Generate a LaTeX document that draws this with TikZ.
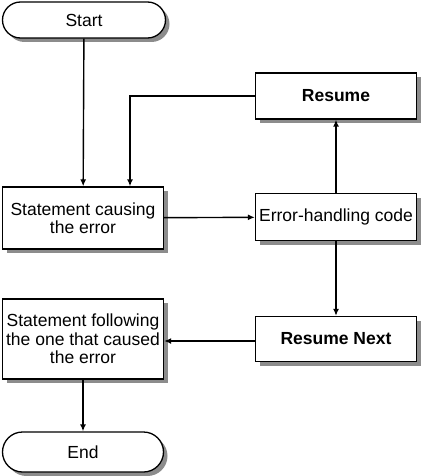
\documentclass[tikz,border=0pt]{standalone}
\usepackage{fontspec}
\setmainfont{Liberation Sans}
\usetikzlibrary{shadows}
\usetikzlibrary{arrows.meta}

\tikzset{
  box/.style={draw, fill=white, line width=1.3pt, align=center, inner sep=2pt,
    minimum width=161pt, drop shadow={shadow xshift=4pt, shadow yshift=-4pt, fill=black!45, opacity=1}},
  term/.style={box, rounded corners=18pt},
  flow/.style={line width=1.4pt, -{Latex[length=7pt, width=6pt]}}
}

\begin{document}
\begin{tikzpicture}[x=1pt, y=-1pt, font=\fontsize{17.5}{18.5}\selectfont]
        \useasboundingbox (0,0) rectangle (421,476);
        \node[term, minimum width=163pt, minimum height=36pt] (start) at (84, 20) {Start};
        \node[box, minimum height=62pt] (cause) at (83, 218) {Statement causing\\the error};
        \node[box, minimum height=47pt] (handler) at (336, 217) {Error-handling code};
        \node[box, minimum height=46pt] (resume) at (336, 96) {\bfseries Resume};
        \node[box, minimum height=45pt] (next) at (336, 339) {\bfseries Resume Next};
        \node[box, minimum height=80pt] (follow) at (83, 339) {Statement following\\the one that caused\\the error};
        \node[term, minimum height=40pt, rounded corners=20pt] (end) at (83, 452) {End};
        \coordinate (turn) at (130, 96);
        \draw[flow] (start) -- (cause);
        \draw[flow] (cause) -- (handler);
        \draw[flow] (handler) -- (resume);
        \draw[flow] (handler) -- (next);
        \draw[flow] (resume) -- (turn) -- (turn |- cause.north);
        \draw[flow] ([yshift=-2pt]next.west) -- ([yshift=-2pt]follow.east);
        \draw[flow] (follow) -- (end);
    \end{tikzpicture}
\end{document}
